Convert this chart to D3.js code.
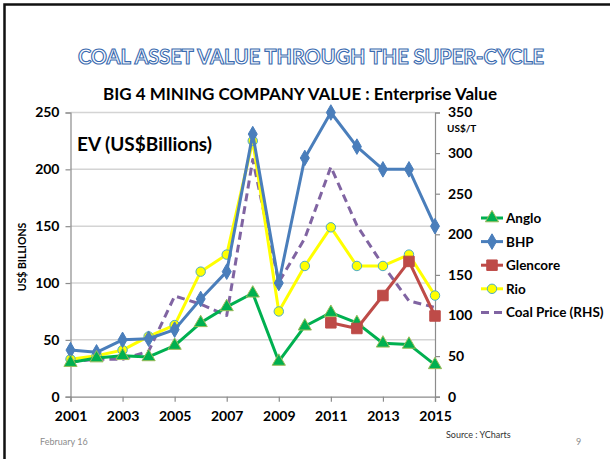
<!DOCTYPE html>
<html>
<head>
<meta charset="utf-8">
<script src="https://cdn.jsdelivr.net/npm/d3@7"></script>
<style>
  body { margin: 0; background: #fff; }
  text { font-family: Lato, "Open Sans", sans-serif; }
</style>
</head>
<body>
<div id="chart"></div>
<script>
// chart data
var years = [2001, 2002, 2003, 2004, 2005, 2006, 2007, 2008, 2009, 2010, 2011, 2012, 2013, 2014, 2015];
var anglo = [30, 34, 36, 35, 45, 65, 79, 91, 31, 62, 74, 65, 47, 46, 28];
var bhp = [41, 39, 50, 51, 59, 86, 110, 231, 100, 210, 250, 220, 200, 200, 150];
var glencoreYears = [2011, 2012, 2013, 2014, 2015];
var glencore = [65, 60, 89, 119, 71];
var rio = [33, 36, 41, 53, 63, 110, 125, 225, 75, 115, 149, 115, 115, 125, 89];
var coalPrice = [43, 46, 46, 56, 124, 114, 100, 292, 141, 195, 283, 211, 162, 118, 110];
var leftTicks = [0, 50, 100, 150, 200, 250];
var rightTicks = [0, 50, 100, 150, 200, 250, 300, 350];
var xTicks = [2001, 2003, 2005, 2007, 2009, 2011, 2013, 2015];

var width = 610, height = 459;

var svg = d3.select("#chart").append("svg")
    .attr("width", width)
    .attr("height", height);

// slide border
svg.append("rect")
    .attr("x", 4.5).attr("y", 4.5)
    .attr("width", 620).attr("height", 470)
    .attr("fill", "none")
    .attr("stroke", "#111")
    .attr("stroke-width", 2.5);

var x = d3.scaleLinear().domain([2001, 2015]).range([70.5, 435]);
var yL = d3.scaleLinear().domain([0, 250]).range([396.7, 112.5]);
var yR = d3.scaleLinear().domain([0, 350]).range([396.7, 112.5]);

// titles
svg.append("text")
    .attr("x", 311).attr("y", 64)
    .attr("text-anchor", "middle")
    .style("font-size", "20px")
    .style("font-weight", "bold")
    .attr("fill", "#fff")
    .attr("stroke", "#3a6bb0")
    .attr("stroke-width", 1.1)
    .text("COAL ASSET VALUE THROUGH THE SUPER-CYCLE");

svg.append("text")
    .attr("x", 300).attr("y", 100)
    .attr("text-anchor", "middle")
    .style("font-size", "17px")
    .style("font-weight", "bold")
    .attr("fill", "#000")
    .text("BIG 4 MINING COMPANY VALUE : Enterprise Value");

// gridlines
svg.append("g").selectAll("line")
    .data(leftTicks.slice(1))
    .enter().append("line")
    .attr("x1", x(2001)).attr("x2", x(2015))
    .attr("y1", function(d) { return yL(d); })
    .attr("y2", function(d) { return yL(d); })
    .attr("stroke", "#d4d4d4")
    .attr("stroke-width", 1.5);

// left axis
var yAxisL = d3.axisLeft(yL).tickValues(leftTicks).tickSize(5).tickPadding(6);
var gL = svg.append("g")
    .attr("transform", "translate(" + x(2001) + ",0)")
    .call(yAxisL);

// right axis
var yAxisR = d3.axisRight(yR).tickValues(rightTicks).tickSize(5).tickPadding(8);
var gR = svg.append("g")
    .attr("transform", "translate(" + x(2015) + ",0)")
    .call(yAxisR);

// bottom axis
var xAxis = d3.axisBottom(x).tickValues(xTicks).tickFormat(d3.format("d")).tickSize(5).tickPadding(7);
var gX = svg.append("g")
    .attr("transform", "translate(0," + yL(0) + ")")
    .call(xAxis);

[gL, gR, gX].forEach(function(g) {
    g.select(".domain").attr("stroke", "#8c8c8c").attr("stroke-width", 1.2);
    g.selectAll(".tick line").attr("stroke", "#8c8c8c").attr("stroke-width", 1.2);
    g.selectAll(".tick text")
        .style("font-family", "Lato, sans-serif")
        .style("font-size", "14px")
        .style("font-weight", "bold")
        .attr("fill", "#000");
});
gX.selectAll(".tick text").attr("dy", "0.9em");

// axis labels
svg.append("text")
    .attr("transform", "translate(26,257) rotate(-90)")
    .attr("text-anchor", "middle")
    .style("font-size", "10.5px")
    .style("font-weight", "bold")
    .text("US$ BILLIONS");

svg.append("text")
    .attr("x", 447).attr("y", 132)
    .style("font-size", "10px")
    .style("font-weight", "bold")
    .text("US$/T");

svg.append("text")
    .attr("x", 77).attr("y", 151)
    .style("font-size", "19px")
    .style("font-weight", "bold")
    .text("EV (US$Billions)");

// series
var lineL = d3.line().x(function(d) { return x(d[0]); }).y(function(d) { return yL(d[1]); });
var lineR = d3.line().x(function(d) { return x(d[0]); }).y(function(d) { return yR(d[1]); });

function pairs(xs, vs) {
    return xs.map(function(v, i) { return [v, vs[i]]; });
}

var series = [
    { name: "Anglo", data: pairs(years, anglo), color: "#00b050", marker: d3.symbolTriangle, size: 75, fill: "#00b050", stroke: "#9bbb59", line: lineL, dash: null },
    { name: "BHP", data: pairs(years, bhp), color: "#4a7ebb", marker: d3.symbolDiamond, size: 70, fill: "#4a7ebb", stroke: "#4a7ebb", line: lineL, dash: null },
    { name: "Glencore", data: pairs(glencoreYears, glencore), color: "#be4b48", marker: d3.symbolSquare, size: 110, fill: "#be4b48", stroke: "#be4b48", line: lineL, dash: null },
    { name: "Rio", data: pairs(years, rio), color: "#ffff00", marker: d3.symbolCircle, size: 70, fill: "#ffff00", stroke: "#4bacc6", line: lineL, dash: null },
    { name: "Coal Price (RHS)", data: pairs(years, coalPrice), color: "#8064a2", marker: null, line: lineR, dash: "8,5" }
];

// draw in excel order: coal under, others above
var drawOrder = [4, 3, 1, 0, 2];
drawOrder.forEach(function(i) {
    var s = series[i];
    var g = svg.append("g");
    g.append("path")
        .attr("d", s.line(s.data))
        .attr("fill", "none")
        .attr("stroke", s.color)
        .attr("stroke-width", 3)
        .attr("stroke-dasharray", s.dash)
        .attr("stroke-linejoin", "round");
    if (s.marker) {
        g.selectAll("path.mk")
            .data(s.data)
            .enter().append("path")
            .attr("class", "mk")
            .attr("d", d3.symbol().type(s.marker).size(s.size))
            .attr("transform", function(d) {
                return "translate(" + x(d[0]) + "," + (s.line === lineL ? yL(d[1]) : yR(d[1])) + ")";
            })
            .attr("fill", s.fill)
            .attr("stroke", s.stroke)
            .attr("stroke-width", 1);
    }
});

// legend
var legend = svg.append("g").attr("transform", "translate(481,218)");
series.forEach(function(s, i) {
    var row = legend.append("g").attr("transform", "translate(0," + (i * 23.6) + ")");
    row.append("line")
        .attr("x1", 0).attr("x2", 22)
        .attr("stroke", s.color)
        .attr("stroke-width", 3)
        .attr("stroke-dasharray", s.dash);
    if (s.marker) {
        row.append("path")
            .attr("d", d3.symbol().type(s.marker).size(s.size))
            .attr("transform", "translate(11,0)")
            .attr("fill", s.fill)
            .attr("stroke", s.stroke)
            .attr("stroke-width", 1);
    }
    row.append("text")
        .attr("x", 25).attr("y", 5)
        .style("font-size", "13.5px")
        .style("font-weight", "bold")
        .text(s.name);
});

// footer
svg.append("text")
    .attr("x", 40).attr("y", 445)
    .style("font-size", "9px")
    .attr("fill", "#8c8c8c")
    .text("February 16");

svg.append("text")
    .attr("x", 446).attr("y", 438)
    .style("font-size", "9px")
    .attr("fill", "#333")
    .text("Source : YCharts");

svg.append("text")
    .attr("x", 576).attr("y", 445)
    .style("font-size", "9px")
    .attr("fill", "#8c8c8c")
    .text("9");
</script>
</body>
</html>
